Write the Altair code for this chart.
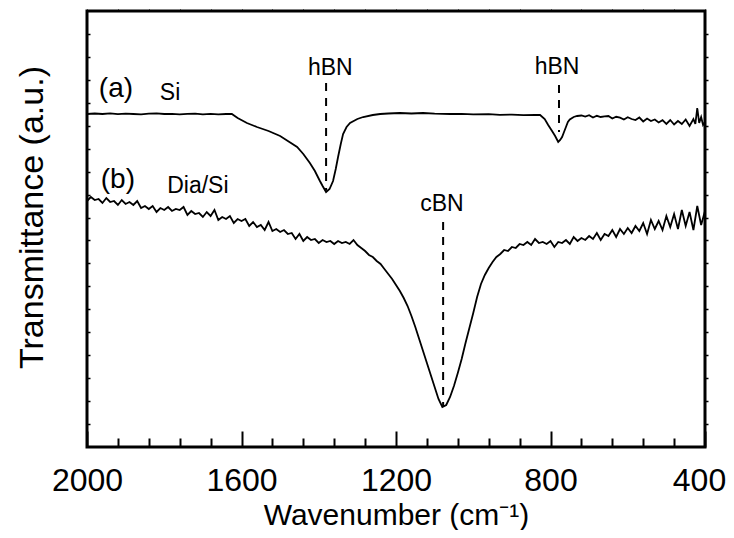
import altair as alt
import pandas as pd

FONT = "Liberation Sans"

# ---- Spectrum (a): hBN film on Si (wavenumber, transmittance a.u.) ----
wn_a = [2000, 1980, 1960, 1940, 1920, 1900, 1880, 1860, 1840, 1820,
        1800, 1780, 1760, 1740, 1720, 1700, 1680, 1660, 1640, 1625,
        1610, 1586, 1560, 1530, 1500, 1480, 1456, 1440, 1423, 1410,
        1397, 1390, 1381, 1372, 1363, 1356, 1350, 1343, 1337, 1328,
        1319, 1300, 1285, 1260, 1241, 1220, 1190, 1160, 1130, 1100,
        1060, 1030, 1000, 960, 931, 900, 870, 840, 827,
        815, 806, 796, 788, 780, 775, 770, 765, 760, 755, 750, 740, 731,
        720, 710, 700, 690, 680, 670, 660, 650, 640, 630,
        620, 610, 600, 590, 580, 570, 560, 550, 540, 530,
        520, 510, 500, 490, 480, 470, 460, 450, 440, 430,
        425, 420, 415, 410, 405, 400]
t_a = [333, 333.5, 333, 333.6, 332.8, 333.4, 333, 332.6, 333.3, 333.6,
       333, 333.2, 332.6, 333.1, 333.4, 332.7, 333.1, 332.7, 333, 333,
       329, 324, 320, 316, 311, 306, 300, 293, 284, 276,
       266, 261, 255, 258, 266, 278, 290, 303, 313, 320,
       324, 328, 330, 332, 333, 333.5, 334, 333.5, 334, 333.4,
       333, 333.2, 332.6, 332.8, 332.2, 332.4, 331.8, 332.2, 332,
       328, 322, 316, 311, 305, 307, 310, 315, 320, 325, 327.5, 330, 331,
       331.5, 330.5, 331.8, 329.5, 331.2, 330, 330.6, 331, 328.5, 330.2,
       329.4, 327.5, 329.8, 328, 327, 329.5, 325.5, 328.5, 326, 327.5,
       324.5, 326.8, 323, 327, 322.5, 326, 323, 327.5, 321, 328,
       323, 339, 324, 330, 322, 325]

# ---- Spectrum (b): BN film on diamond/Si, sampled every 10 cm-1 from 2000 to 400 ----
wn_b = list(range(2000, 399, -10))
t_b = [246, 250, 247, 248, 244, 249, 245, 246, 242, 247,
       243, 245, 242, 246, 239, 241, 238, 241, 235, 239,
       237, 240, 236, 238, 237, 240, 232, 236, 233, 234,
       230, 235, 231, 237, 227, 230, 228, 231, 224, 228,
       226, 228, 221, 225, 220, 222, 217, 225, 216, 218,
       215, 217, 213, 214, 208, 213, 206, 210, 207, 208,
       204, 207, 205, 206, 203, 206, 204, 205, 203, 207,
       202, 199, 196, 192, 190, 186, 183, 178, 173, 168,
       162, 156, 149, 141, 131, 120, 108, 96, 84, 72,
       60, 48, 40, 42, 50, 61, 74, 88, 104, 119,
       134, 150, 163, 172, 179, 185, 190, 193, 197, 196,
       200, 199, 203, 202, 205, 202, 208, 204, 205, 203,
       206, 200, 205, 204, 207, 203, 210, 206, 209, 207,
       211, 208, 214, 207, 213, 211, 217, 210, 218, 213,
       219, 214, 221, 216, 224, 213, 227, 218, 226, 217,
       231, 220, 233, 218, 237, 221, 235, 217, 241, 222,
       236]

# ---- Peak markers (dashed) ----
mark_wn = [1381, 778, 1078]
mark_top = [364, 362, 225]
mark_bot = [257, 315, 40]

# ---- Annotations ----
big_text = ["(a)", "(b)"]
big_wn = [1925, 1920]
big_t = [358, 267]
small_text = ["Si", "Dia/Si", "hBN", "hBN", "cBN"]
small_wn = [1785, 1713, 1370, 783, 1081]
small_t = [354, 261, 379, 380, 243]

# ---- Axis ticks ----
x_major = [2000, 1600, 1200, 800, 400]
x_minor = [1920, 1840, 1760, 1680, 1520, 1440, 1360, 1280,
           1120, 1040, 960, 880, 720, 640, 560, 480]
x_all = sorted(x_major + x_minor)
y_ticks = [round(436 * k / 19, 2) for k in range(1, 19)]

assert len(wn_a) == len(t_a)
assert len(wn_b) == len(t_b)

spec = pd.concat([
    pd.DataFrame({"wn": wn_a, "t": t_a, "s": "a"}),
    pd.DataFrame({"wn": wn_b, "t": t_b, "s": "b"}),
])
rule_df = pd.DataFrame({"wn": mark_wn, "y1": mark_top, "y2": mark_bot})
big_df = pd.DataFrame({"label": big_text, "wn": big_wn, "t": big_t})
small_df = pd.DataFrame({"label": small_text, "wn": small_wn, "t": small_t})

W, H = 618, 436
XS = alt.Scale(domain=[400, 2000], reverse=True, nice=False, zero=False)
YS = alt.Scale(domain=[0, 436], nice=False, zero=False)

lines = alt.Chart(spec).mark_line(color="black", strokeWidth=1.8).encode(
    x=alt.X("wn:Q", scale=XS, axis=alt.Axis(
        orient="bottom", values=x_major, format="d", ticks=False, tickSize=0,
        domain=False, grid=False,
        labelFont=FONT, labelFontSize=32, labelColor="black", labelPadding=43,
        labelBaseline="alphabetic", labelFlush=False, labelOverlap=False,
        labelOffset=alt.condition("datum.value == 400", alt.value(-6), alt.value(0)),
        title="Wavenumber (cm⁻¹)", titleFont=FONT, titleFontSize=30,
        titleFontWeight="normal", titleColor="black", titleY=77,
        titleBaseline="alphabetic")),
    y=alt.Y("t:Q", scale=YS, axis=alt.Axis(
        orient="left", labels=False, ticks=False, domain=False, grid=False,
        title="Transmittance (a.u.)", titleFont=FONT, titleFontSize=34,
        titleFontWeight="normal", titleColor="black", titleAngle=270,
        titleX=-45, titleY=206, titleBaseline="alphabetic")),
    detail="s:N",
)

rules = alt.Chart(rule_df).mark_rule(color="black", strokeWidth=2, strokeDash=[8, 7]).encode(
    x=alt.X("wn:Q", scale=XS, axis=alt.Axis(
        orient="top", offset=-H, values=x_major, tickSize=16, tickWidth=2,
        tickColor="black", labels=False, domain=False, grid=False, title=None)),
    y=alt.Y("y1:Q", scale=YS, axis=alt.Axis(
        orient="right", offset=-W, values=y_ticks, tickSize=3, tickWidth=1.5,
        tickColor="black", labels=False, domain=False, grid=False, title=None)),
    y2="y2:Q",
)

big = alt.Chart(big_df).mark_text(font=FONT, fontSize=28, color="black",
                                  align="center", baseline="middle").encode(
    x=alt.X("wn:Q", scale=XS, axis=alt.Axis(
        orient="top", offset=-H, values=x_minor, tickSize=9, tickWidth=2,
        tickColor="black", labels=False, domain=False, grid=False, title=None)),
    y=alt.Y("t:Q", scale=YS, axis=alt.Axis(
        orient="right", values=y_ticks, tickSize=3, tickWidth=1.5,
        tickColor="black", labels=False, domain=False, grid=False, title=None)),
    text="label:N",
)

small = alt.Chart(small_df).mark_text(font=FONT, fontSize=23, color="black",
                                      align="center", baseline="middle").encode(
    x=alt.X("wn:Q", scale=XS, axis=alt.Axis(
        orient="top", values=x_all, tickSize=2, tickWidth=1,
        tickColor="black", labels=False, domain=False, grid=False, title=None)),
    y=alt.Y("t:Q", scale=YS, axis=None),
    text="label:N",
)

chart = alt.layer(lines, rules, big, small).resolve_axis(
    x="independent", y="independent"
).properties(
    width=W, height=H,
    padding={"left": 79, "top": 3, "right": 21, "bottom": 83},
    autosize=alt.AutoSizeParams(type="none"),
    background="white",
).configure_view(stroke="black", strokeWidth=3)

chart.save("out.html", embed_options={"renderer": "svg", "actions": False})
